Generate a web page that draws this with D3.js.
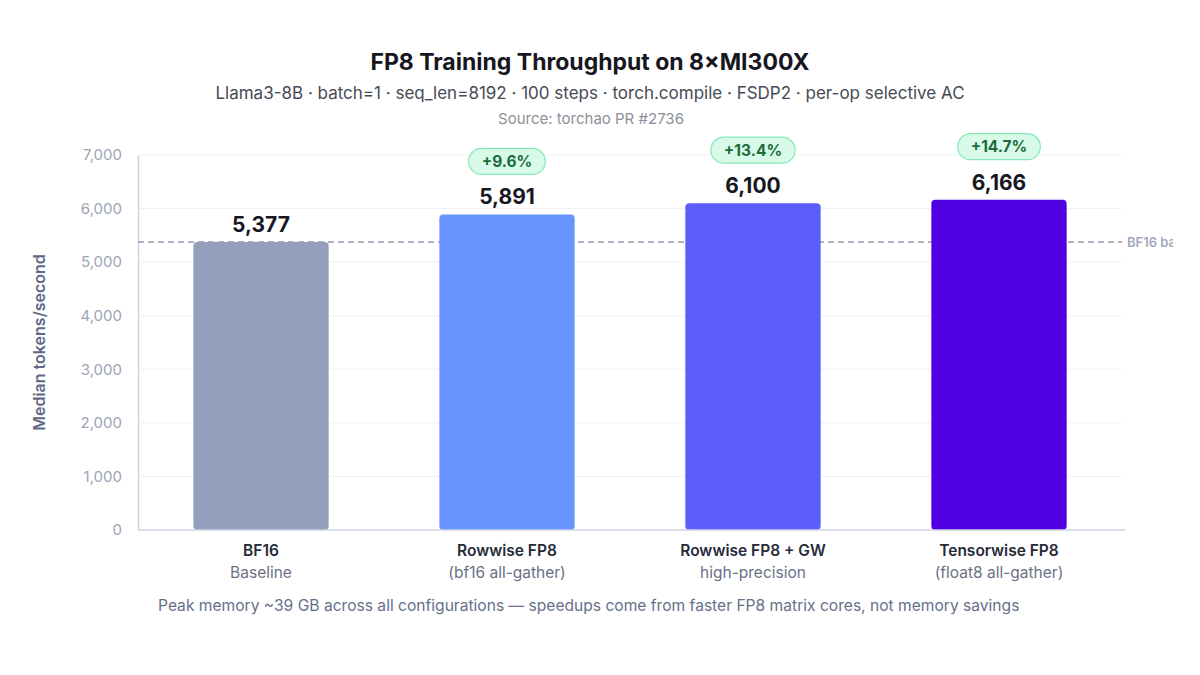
<!DOCTYPE html>
<html>
<head>
<meta charset="utf-8">
<script src="https://cdn.jsdelivr.net/npm/d3@7"></script>
<style>
  body { margin: 0; background: #fff; }
  svg { display: block; font-family: Inter, "Noto Sans", sans-serif; }
</style>
</head>
<body>
<div id="chart"></div>
<script>
// chart data
var categories = ["BF16", "Rowwise FP8", "Rowwise FP8 + GW", "Tensorwise FP8"];
var subLabels = ["Baseline", "(bf16 all-gather)", "high-precision", "(float8 all-gather)"];
var throughput = [5377, 5891, 6100, 6166];
var speedups = [null, "+9.6%", "+13.4%", "+14.7%"];
var barColors = ["#949fbb", "#6895ff", "#5b5ef9", "#5000e0"];
var yTicks = [0, 1000, 2000, 3000, 4000, 5000, 6000, 7000];

var W = 1200, H = 675;
var plotLeft = 138, plotRight = 1122, plotTop = 155, plotBottom = 530;

var svg = d3.select("#chart").append("svg")
  .attr("width", W)
  .attr("height", H);

// titles
svg.append("text")
  .attr("x", 590).attr("y", 70)
  .attr("text-anchor", "middle")
  .style("font-size", "23px").style("font-weight", "700").style("fill", "#16161f")
  .text("FP8 Training Throughput on 8×MI300X");

svg.append("text")
  .attr("x", 590).attr("y", 99)
  .attr("text-anchor", "middle")
  .style("font-size", "17px").style("fill", "#474a55")
  .text("Llama3-8B · batch=1 · seq_len=8192 · 100 steps · torch.compile · FSDP2 · per-op selective AC");

svg.append("text")
  .attr("x", 591).attr("y", 124)
  .attr("text-anchor", "middle")
  .style("font-size", "15px").style("fill", "#8d8f99")
  .text("Source: torchao PR #2736");

var x = d3.scaleBand()
  .domain(categories)
  .range([plotLeft, plotRight])
  .paddingInner(0.45)
  .paddingOuter(0.225);

var y = d3.scaleLinear()
  .domain([0, 7000])
  .range([plotBottom, plotTop]);

// gridlines
svg.append("g")
  .selectAll("line")
  .data(yTicks.slice(1))
  .enter().append("line")
  .attr("x1", plotLeft).attr("x2", plotRight)
  .attr("y1", function (d) { return y(d); })
  .attr("y2", function (d) { return y(d); })
  .style("stroke", "#eef0f5").style("stroke-width", 1);

// y axis
var yAxis = svg.append("g")
  .attr("transform", "translate(" + plotLeft + ",0)")
  .call(d3.axisLeft(y).tickValues(yTicks).tickFormat(d3.format(",")).tickSize(0).tickPadding(16));
yAxis.select(".domain").style("stroke", "#cdd3e0").style("stroke-width", 1.5);
yAxis.selectAll("text")
  .style("font-family", "Inter, sans-serif")
  .style("font-size", "15px").style("fill", "#9ea4b5");

svg.append("text")
  .attr("transform", "translate(45," + ((plotTop + plotBottom) / 2) + ") rotate(-90)")
  .attr("text-anchor", "middle")
  .style("font-size", "16px").style("font-weight", "600").style("fill", "#5f6884")
  .text("Median tokens/second");

// baseline dashed line
var clip = svg.append("clipPath").attr("id", "clipr");
clip.append("rect").attr("x", 0).attr("y", 0).attr("width", 1173).attr("height", H);

svg.append("line")
  .attr("x1", plotLeft).attr("x2", plotRight)
  .attr("y1", y(throughput[0])).attr("y2", y(throughput[0]))
  .style("stroke", "#9499b0").style("stroke-width", 1.5)
  .style("stroke-dasharray", "6,4");

svg.append("text")
  .attr("clip-path", "url(#clipr)")
  .attr("x", 1127).attr("y", y(throughput[0]) + 5)
  .style("font-size", "13px").style("font-weight", "600").style("fill", "#a3a8bd")
  .text("BF16 baseline");

// bars
svg.append("g")
  .selectAll("rect")
  .data(throughput)
  .enter().append("rect")
  .attr("x", function (d, i) { return x(categories[i]); })
  .attr("y", function (d) { return y(d); })
  .attr("width", x.bandwidth())
  .attr("height", function (d) { return y(0) - y(d); })
  .attr("rx", 4)
  .style("fill", function (d, i) { return barColors[i]; });

// x axis line
svg.append("line")
  .attr("x1", plotLeft).attr("x2", plotRight + 3)
  .attr("y1", plotBottom).attr("y2", plotBottom)
  .style("stroke", "#cdd3e0").style("stroke-width", 1.5);

// value labels
svg.append("g")
  .selectAll("text")
  .data(throughput)
  .enter().append("text")
  .attr("x", function (d, i) { return x(categories[i]) + x.bandwidth() / 2; })
  .attr("y", function (d) { return y(d) - 10; })
  .attr("text-anchor", "middle")
  .style("font-size", "21px").style("font-weight", "700").style("fill", "#17171f")
  .text(function (d) { return d3.format(",")(d); });

// speedup pills
speedups.forEach(function (s, i) {
  if (!s) return;
  var cx = x(categories[i]) + x.bandwidth() / 2;
  var cy = y(throughput[i]) - 53;
  var pill = svg.append("rect");
  var t = svg.append("text")
    .attr("x", cx).attr("y", cy + 5.5)
    .attr("text-anchor", "middle")
    .style("font-size", "15.5px").style("font-weight", "700").style("fill", "#1d6b3c")
    .text(s);
  var w = t.node().getComputedTextLength() + 26;
  pill.attr("x", cx - w / 2).attr("y", cy - 13)
    .attr("width", w).attr("height", 26)
    .attr("rx", 13)
    .style("fill", "#d8fbe9").style("stroke", "#86e8b8").style("stroke-width", 1.2);
});

// category labels
categories.forEach(function (c, i) {
  var cx = x(c) + x.bandwidth() / 2;
  svg.append("text")
    .attr("x", cx).attr("y", 556)
    .attr("text-anchor", "middle")
    .style("font-size", "15.5px").style("font-weight", "600").style("fill", "#262b38")
    .text(c);
  svg.append("text")
    .attr("x", cx).attr("y", 578)
    .attr("text-anchor", "middle")
    .style("font-size", "15.5px").style("fill", "#6a7186")
    .text(subLabels[i]);
});

// footer note
svg.append("text")
  .attr("x", 158).attr("y", 611)
  .style("font-size", "15.6px").style("fill", "#66708a")
  .text("Peak memory ~39 GB across all configurations — speedups come from faster FP8 matrix cores, not memory savings");
</script>
</body>
</html>
